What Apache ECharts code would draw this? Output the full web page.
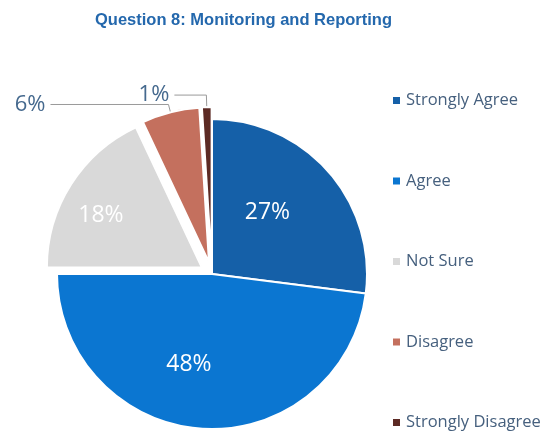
<!DOCTYPE html>
<html>
<head>
<meta charset="utf-8">
<script src="https://cdn.jsdelivr.net/npm/echarts@6/dist/echarts.min.js"></script>
<style>
html,body{margin:0;padding:0;background:#fff;}
#chart{width:545px;height:434px;}
</style>
</head>
<body>
<div id="chart"></div>
<script>
const titleText = 'Question 8: Monitoring and Reporting';
const categories = ['Strongly Agree', 'Agree', 'Not Sure', 'Disagree', 'Strongly Disagree'];
const values = [27, 48, 18, 6, 1];
const colors = ['#1560a8', '#0b76d1', '#d9d9d9', '#c4705e', '#5c2a24'];
const exploded = [false, false, true, true, true];
const outsideLabel = [false, false, false, true, true];
const leaderLen = [0, 0, 0, 8, 12];
const leaderLen2 = [0, 0, 0, 118, 32];
// small label nudges (pixels) for the inside labels
const labelDx = [-5, -18, -33, 0, 0];
const labelDy = [-8, 10, -9, 0, 0];

const chart = echarts.init(document.getElementById('chart'), null, {renderer: 'canvas'});

const data = categories.map((name, i) => {
  const item = {
    name: name,
    value: values[i],
    selected: exploded[i],
    itemStyle: {color: colors[i]}
  };
  if (outsideLabel[i]) {
    item.label = {position: 'outside', color: '#45698e', fontSize: 22};
    item.labelLine = {show: true, length: leaderLen[i], length2: leaderLen2[i],
      lineStyle: {color: '#9a9a9a', width: 1}};
  } else {
    item.label = {position: 'inside', color: '#ffffff', fontSize: 23};
    item.labelLine = {show: false};
  }
  return item;
});

chart.setOption({
  animation: false,
  backgroundColor: '#ffffff',
  title: {
    text: titleText,
    left: 90,
    top: 7,
    textStyle: {fontFamily: 'Liberation Sans', fontSize: 16.5, fontWeight: 'bold', color: '#2468ad'}
  },
  legend: {
    orient: 'vertical',
    left: 386,
    top: 87,
    height: 400,
    itemGap: 63.5,
    itemWidth: 9,
    itemHeight: 9,
    icon: 'rect',
    selectedMode: false,
    data: categories,
    textStyle: {fontFamily: 'Open Sans', fontSize: 16.5, color: '#46607e'}
  },
  series: [{
    type: 'pie',
    center: [212, 274],
    radius: 155,
    startAngle: 90,
    clockwise: true,
    selectedMode: 'multiple',
    selectedOffset: 12,
    avoidLabelOverlap: false,
    itemStyle: {borderColor: '#ffffff', borderWidth: 2},
    label: {formatter: '{c}%', fontFamily: 'Open Sans'},
    labelLayout: function (params) {
      const i = params.dataIndex;
      if (outsideLabel[i]) return {};
      return {dx: labelDx[i], dy: labelDy[i]};
    },
    emphasis: {disabled: true},
    data: data
  }]
});
</script>
</body>
</html>
